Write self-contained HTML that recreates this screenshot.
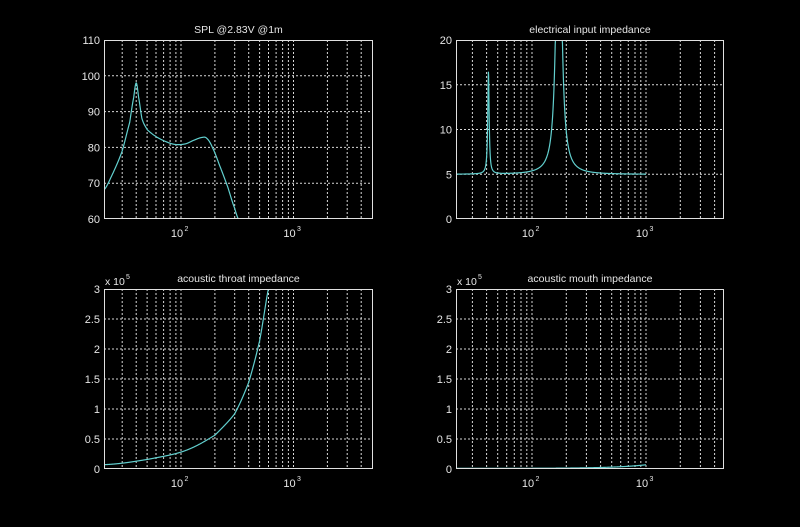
<!DOCTYPE html>
<html><head><meta charset="utf-8"><style>
html,body{margin:0;padding:0;background:#000;}
svg{display:block;}
text{font-family:"Liberation Sans",sans-serif;fill:#e6e6e6;font-size:11px;}
</style></head><body>
<svg id="s" width="800" height="527" xmlns="http://www.w3.org/2000/svg"></svg>
<script>
const S=document.getElementById('s');let h='';
const plots=[
 {x0:104,x1:373,y0:40,y1:219,c:181,D:112.5,ymin:60,ymax:110,yt:[60,70,80,90,100,110],yl:v=>String(v),title:'SPL @2.83V @1m',exp:false},
 {x0:456,x1:724,y0:40,y1:219,c:532,D:114,ymin:0,ymax:20,yt:[0,5,10,15,20],yl:v=>String(v),title:'electrical input impedance',exp:false},
 {x0:104,x1:373,y0:289,y1:469,c:181,D:112.5,ymin:0,ymax:3,yt:[0,0.5,1,1.5,2,2.5,3],yl:v=>String(v),title:'acoustic throat impedance',exp:true},
 {x0:456,x1:724,y0:289,y1:469,c:532,D:114,ymin:0,ymax:3,yt:[0,0.5,1,1.5,2,2.5,3],yl:v=>String(v),title:'acoustic mouth impedance',exp:true}
];
function X(p,f){return p.c+(Math.log10(f)-2)*p.D;}
function Y(p,v){return p.y1-(v-p.ymin)/(p.ymax-p.ymin)*(p.y1-p.y0);}
function interp(pts,f){const l=Math.log10(f);
 for(let i=0;i<pts.length-1;i++){const a=Math.log10(pts[i][0]),b=Math.log10(pts[i+1][0]);
  if(l>=a&&l<=b){const t=(l-a)/(b-a);
   const p0=pts[Math.max(0,i-1)][1],p1=pts[i][1],p2=pts[i+1][1],p3=pts[Math.min(pts.length-1,i+2)][1];
   const t2=t*t,t3=t2*t;return 0.5*((2*p1)+(-p0+p2)*t+(2*p0-5*p1+4*p2-p3)*t2+(-p0+3*p1-3*p2+p3)*t3);}}
 return pts[pts.length-1][1];}
const spl=[[20.5,68],[25,73],[30,79],[35,87],[38,94],[40,98],[42,94],[45,88],[50,85],[60,83],[75,81.5],[90,80.8],[110,81],[130,82],[155,82.8],[170,82.5],[190,80],[220,75],[260,69],[300,63],[330,59.5]];
const thr=[[20,-1.15],[50,-0.8],[100,-0.55],[200,-0.25],[300,-0.036],[400,0.16],[500,0.33],[600,0.48],[650,0.55]];
const fns=[
 [20.5,330,f=>interp(spl,f)],
 [20,1000,f=>{let z=5;let r=(f/41.5-41.5/f)*30;z+=11.5/(1+r*r);r=(f/172-172/f)*9;z+=40/(1+r*r);return Math.min(z,20);}],
 [20,605,f=>Math.min(Math.pow(10,interp(thr,f)),3)],
 [20,1000,f=>0.01+0.06*Math.pow(f/1000,1.5)]
];
plots.forEach((p,k)=>{
 h+=`<rect x="${p.x0}" y="${p.y0}" width="${p.x1-p.x0}" height="${p.y1-p.y0}" fill="#000"/>`;
 for(let d=10;d<=1000;d*=10)for(let m=1;m<=9;m++){const f=d*m;const x=X(p,f);if(x<=p.x0+1||x>=p.x1-1)continue;
  h+=`<line x1="${x.toFixed(1)}" y1="${p.y0}" x2="${x.toFixed(1)}" y2="${p.y1}" stroke="#d8d8d8" stroke-width="1" stroke-dasharray="2,2"/>`;}
 p.yt.forEach(v=>{const y=Y(p,v);if(y>p.y0+1&&y<p.y1-1)h+=`<line x1="${p.x0}" y1="${y}" x2="${p.x1}" y2="${y}" stroke="#d8d8d8" stroke-width="1" stroke-dasharray="2,2"/>`;
  h+=`<text x="${p.x0-4}" y="${y+4}" text-anchor="end">${p.yl(v)}</text>`;});
 const [a,b,fn]=fns[k];let d='';
 for(let i=0;i<=800;i++){const f=a*Math.pow(b/a,i/800);d+=(i?'L':'M')+X(p,f).toFixed(2)+','+Y(p,fn(f)).toFixed(2);}
 h+=`<clipPath id="c${k}"><rect x="${p.x0}" y="${p.y0}" width="${p.x1-p.x0}" height="${p.y1-p.y0}"/></clipPath>`;
 h+=`<path d="${d}" fill="none" stroke="#62d0cf" stroke-width="1.2" clip-path="url(#c${k})"/>`;
 h+=`<rect x="${p.x0+0.5}" y="${p.y0+0.5}" width="${p.x1-p.x0-1}" height="${p.y1-p.y0-1}" fill="none" stroke="#e0e0e0" stroke-width="1"/>`;
 [100,1000].forEach((f,i)=>{const x=X(p,f);
  h+=`<text x="${x-4}" y="${p.y1+18}" text-anchor="middle">10</text><text x="${x+3.5}" y="${p.y1+12}" style="font-size:7px">${i+2}</text>`;});
 h+=`<text x="${(p.x0+p.x1)/2}" y="${p.y0-7}" text-anchor="middle" style="font-size:10.5px">${p.title}</text>`;
 if(p.exp)h+=`<text x="${p.x0+1}" y="${p.y0-4}" style="font-size:10.5px">x 10</text><text x="${p.x0+22}" y="${p.y0-10}" style="font-size:7px">5</text>`;
});
S.innerHTML=h;
</script>
</body></html>
